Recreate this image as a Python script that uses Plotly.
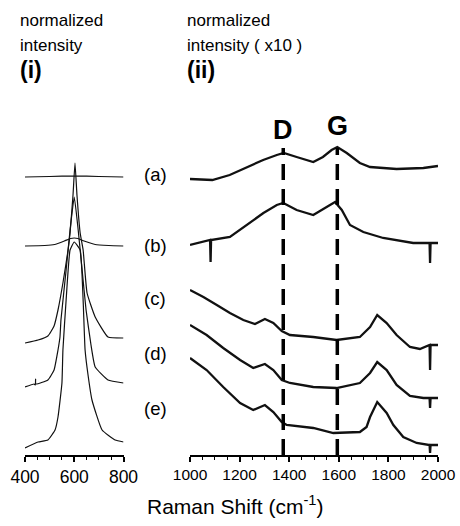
import plotly.graph_objects as go

# ---------------- data ----------------
# Panel (i): normalized intensity, x = Raman shift 400-800
left_offsets = [278, 209, 112, 68, 7]
left_x_a = [400, 500, 600, 700, 800]
left_y_a = [0, 0.5, 1, 0.5, 0]
left_x_b = [400, 480, 520, 560, 585, 600, 615, 640, 685, 740, 800]
left_y_b = [0, 0.5, 1.5, 5, 7.5, 8, 7.5, 5, 1.5, 0.5, 0]
left_x_c = [400, 453, 493, 518, 534, 554, 575, 583, 595, 603, 611, 624, 636, 652, 685, 737, 800]
left_y_c = [0, 3, 7, 17, 33, 60, 93, 110, 148, 180, 148, 110, 93, 50, 26, 6, 5]
left_x_d = [400, 437, 442, 443, 444, 493, 518, 534, 542, 546, 567, 583, 600, 616, 632, 648, 668, 685, 737, 800]
left_y_d = [0, 3, 2, 8, 3, 7, 17, 37, 50, 67, 117, 157, 190, 157, 117, 77, 42, 20, 7, 4]
left_x_e = [400, 453, 493, 522, 534, 550, 554, 567, 583, 600, 624, 636, 644, 656, 672, 713, 766, 800]
left_y_e = [0, 6, 8, 18, 31, 65, 98, 148, 198, 206, 198, 148, 98, 73, 48, 18, 8, 6]

# Panel (ii): normalized intensity (x10), x = Raman shift 1000-2000
right_offsets = [270, 200, 115, 70, 25]
right_x_a = [1000, 1090, 1160, 1230, 1295, 1350, 1378, 1430, 1497, 1536, 1571, 1594, 1632, 1685, 1726, 1833, 1941, 2000]
right_y_a = [6, 5, 10, 18, 25, 30, 32, 28, 23, 28, 35, 38, 32, 22, 18, 16, 17, 19]
right_x_b = [1000, 1081, 1083, 1085, 1161, 1228, 1296, 1350, 1376, 1430, 1497, 1551, 1585, 1612, 1645, 1699, 1779, 1900, 1966, 1968, 1970, 2000]
right_y_b = [10, 15, -7, 15, 18, 30, 42, 50, 52, 45, 40, 48, 53, 45, 30, 23, 17, 12, 12, -8, 12, 12]
right_x_c = [1000, 1054, 1108, 1161, 1215, 1262, 1302, 1336, 1370, 1403, 1497, 1591, 1685, 1726, 1755, 1793, 1833, 1887, 1927, 1966, 1968, 1970, 2000]
right_y_c = [50, 43, 35, 27, 20, 16, 21, 17, 9, 5, 3, 0, 3, 13, 25, 17, 5, -7, -9, -5, -30, -5, -5]
right_x_d = [1000, 1067, 1134, 1202, 1255, 1302, 1336, 1370, 1403, 1497, 1591, 1685, 1726, 1755, 1793, 1833, 1887, 1941, 1966, 1968, 1970, 2000]
right_y_d = [60, 50, 37, 25, 17, 21, 15, 5, 2, -2, -3, 2, 12, 23, 15, 0, -11, -13, -13, -23, -13, -13]
right_x_e = [1000, 1067, 1134, 1202, 1255, 1302, 1336, 1370, 1390, 1497, 1578, 1685, 1712, 1726, 1755, 1793, 1820, 1860, 1914, 1966, 1968, 1970, 2000]
right_y_e = [72, 60, 43, 27, 20, 25, 18, 8, 5, 2, -3, -2, 3, 13, 28, 17, 5, -7, -13, -15, -23, -15, -15]

curve_names = ["(a)", "(b)", "(c)", "(d)", "(e)"]
band_names = ["D", "G"]
band_positions = [1376, 1594]
left_ticks = [400, 600, 800]
right_ticks = [1000, 1200, 1400, 1600, 1800, 2000]

left_series = [(left_x_a, left_y_a), (left_x_b, left_y_b), (left_x_c, left_y_c),
               (left_x_d, left_y_d), (left_x_e, left_y_e)]
right_series = [(right_x_a, right_y_a), (right_x_b, right_y_b), (right_x_c, right_y_c),
                (right_x_d, right_y_d), (right_x_e, right_y_e)]

# ---------------- figure ----------------
W, H = 460, 526
FONT = "Liberation Sans, Arial, sans-serif"
fig = go.Figure()

for (xs, ys), off in zip(left_series, left_offsets):
    fig.add_trace(go.Scatter(x=xs, y=[v + off for v in ys], mode="lines",
                             line=dict(color="#111", width=1.2, shape="spline", smoothing=0.4),
                             xaxis="x", yaxis="y", showlegend=False, hoverinfo="skip"))

for (xs, ys), off in zip(right_series, right_offsets):
    fig.add_trace(go.Scatter(x=xs, y=[v + off for v in ys], mode="lines",
                             line=dict(color="#111", width=2.3),
                             xaxis="x2", yaxis="y2", showlegend=False, hoverinfo="skip"))

def px_x(p):
    return p / W

def px_y(p):
    return 1 - p / H

y_dom = [px_y(455), px_y(120)]
y_rng = [0, 335]

axis_common = dict(showline=True, linecolor="black", linewidth=1.5, ticks="outside",
                   ticklen=5, tickwidth=1.5, tickcolor="black", showgrid=False,
                   zeroline=False, mirror=False, automargin=False)

fig.update_layout(
    template="none",
    width=W, height=H, autosize=False,
    margin=dict(l=0, r=0, t=0, b=0, pad=0, autoexpand=False),
    paper_bgcolor="white", plot_bgcolor="white",
    font=dict(family=FONT, color="black"),
    xaxis=dict(domain=[px_x(25), px_x(123.5)], range=[400, 800], anchor="y",
               tickvals=left_ticks, tickfont=dict(size=17.5, family=FONT, color="black"),
               minor=dict(dtick=50, ticklen=3.5, tickwidth=1.2, ticks="outside", tickcolor="black"),
               **axis_common),
    yaxis=dict(domain=y_dom, range=y_rng, visible=False, automargin=False),
    xaxis2=dict(domain=[px_x(190), px_x(438)], range=[1000, 2000], anchor="y2",
                tickvals=right_ticks, tickfont=dict(size=15.5, family=FONT, color="black"),
                minor=dict(dtick=50, ticklen=3.5, tickwidth=1.2, ticks="outside", tickcolor="black"),
                **axis_common),
    yaxis2=dict(domain=y_dom, range=y_rng, visible=False, anchor="x2", automargin=False),
)

# dashed D / G lines
for pos in band_positions:
    fig.add_shape(type="line", xref="x2", yref="y2", x0=pos, x1=pos, y0=0, y1=307,
                  line=dict(color="black", width=3.5, dash="16px,9px"))

# D / G labels
for name, pos, ypix in zip(band_names, band_positions, [130, 126]):
    fig.add_annotation(x=pos, y=455 - ypix, xref="x2", yref="y2", text="<b>%s</b>" % name,
                       showarrow=False, font=dict(size=27, family=FONT, color="black"),
                       xanchor="center", yanchor="middle")

# curve labels (a)-(e)
for name, ypix in zip(curve_names, [174, 245, 298, 353, 408]):
    fig.add_annotation(x=px_x(155), y=px_y(ypix), xref="paper", yref="paper", text=name,
                       showarrow=False, font=dict(size=18.5, family=FONT, color="black"),
                       xanchor="center", yanchor="middle")

# headers
headers = [(18, 21, "normalized", 17, False), (18, 45, "intensity", 17, False),
           (18, 70, "(i)", 23, True),
           (185, 21, "normalized", 17, False), (185, 45, "intensity ( x10 )", 17, False),
           (185, 70, "(ii)", 23, True)]
for xp, yp, txt, sz, bold in headers:
    fig.add_annotation(x=px_x(xp), y=px_y(yp), xref="paper", yref="paper",
                       text=("<b>%s</b>" % txt) if bold else txt, showarrow=False,
                       font=dict(size=sz, family=FONT, color="black"),
                       xanchor="left", yanchor="middle")

# x-axis title
fig.add_annotation(x=px_x(235), y=px_y(505), xref="paper", yref="paper",
                   text="Raman Shift (cm<sup>-1</sup>)", showarrow=False,
                   font=dict(size=21, family=FONT, color="black"),
                   xanchor="center", yanchor="middle")

fig.write_html("out.html", config={"responsive": False, "displayModeBar": False},
               post_script="document.body.style.margin='0';document.body.style.padding='0';"
                           "document.body.style.overflow='hidden';")
